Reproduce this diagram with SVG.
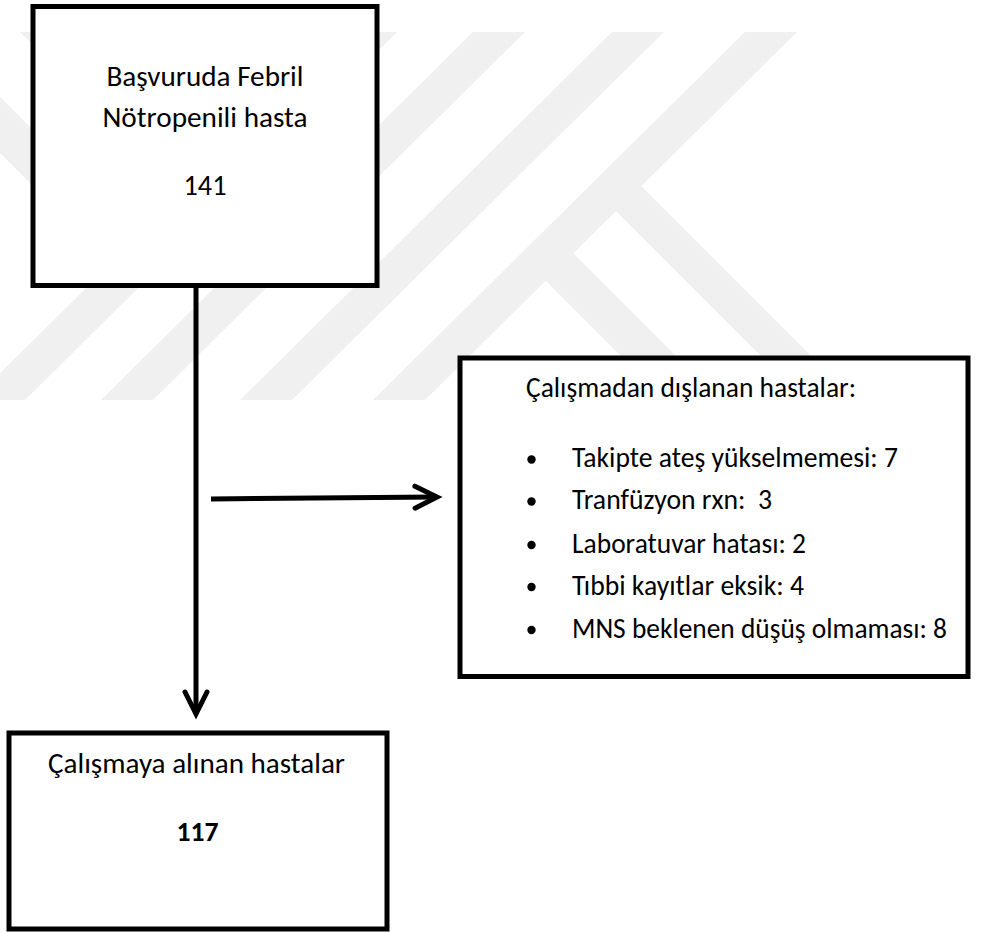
<svg xmlns="http://www.w3.org/2000/svg" width="1008" height="932" viewBox="0 0 1008 932">
  <style>
    .wm { fill: #f0f0f0; stroke: none; }
    .box { fill: #ffffff; stroke: #000000; stroke-width: 5; stroke-linejoin: miter; }
    .txt { font-family: Carlito, Calibri, "Open Sans", sans-serif; font-size: 29px; fill: #000000; }
    .mid { text-anchor: middle; }
    .bold { font-weight: bold; }
    .conn { fill: none; stroke: #000000; stroke-width: 5; }
    .bullet { fill: #000000; }
  </style>
  <defs>
    <marker id="chev" markerUnits="userSpaceOnUse" viewBox="-30 -16 36 32" refX="0" refY="0" markerWidth="36" markerHeight="32" orient="auto">
      <path d="M-22,-11 L0,0 L-22,11" fill="none" stroke="#000000" stroke-width="5" stroke-linecap="round" stroke-linejoin="miter"/>
    </marker>
  </defs>

  <g id="watermark">
    <polygon class="wm" points="345,32 397,32 25,400 -27,400"/>
    <polygon class="wm" points="473,32 525,32 153,400 101,400"/>
    <polygon class="wm" points="612,32 664,32 292,400 240,400"/>
    <polygon class="wm" points="745,32 797,32 425,400 373,400"/>
    <polygon class="wm" points="640.5,185.5 855,400 805,400 615.5,210.5"/>
    <polygon class="wm" points="572,252 720,400 665,400 544.5,279.5"/>
    <polygon class="wm" points="0,97 60,157 60,213 0,153"/>
    <polygon class="wm" points="20,32 60,32 60,72"/>
  </g>

  <g id="connectors">
    <line class="conn" x1="196" y1="288" x2="196" y2="714" marker-end="url(#chev)"/>
    <line class="conn" x1="211" y1="499" x2="437" y2="497" marker-end="url(#chev)"/>
  </g>

  <g id="node-start">
    <rect class="box" x="33" y="6.5" width="344" height="279"/>
    <text class="txt mid" x="205" y="86" textLength="197" lengthAdjust="spacingAndGlyphs">Başvuruda Febril</text>
    <text class="txt mid" x="205" y="127" textLength="205" lengthAdjust="spacingAndGlyphs">Nötropenili hasta</text>
    <text class="txt mid" x="205" y="195" textLength="43" lengthAdjust="spacingAndGlyphs">141</text>
  </g>

  <g id="node-excluded">
    <rect class="box" x="460" y="358" width="508" height="318.5"/>
    <text class="txt" x="526" y="397" textLength="330" lengthAdjust="spacingAndGlyphs">Çalışmadan dışlanan hastalar:</text>
    <circle class="bullet" cx="531.5" cy="459.5" r="4.2"/>
    <text class="txt" x="572" y="467" textLength="326" lengthAdjust="spacingAndGlyphs">Takipte ateş yükselmemesi: 7</text>
    <circle class="bullet" cx="531.5" cy="501.5" r="4.2"/>
    <text class="txt" x="572" y="509" textLength="200" lengthAdjust="spacingAndGlyphs" xml:space="preserve">Tranfüzyon rxn:  3</text>
    <circle class="bullet" cx="531.5" cy="545" r="4.2"/>
    <text class="txt" x="572" y="553" textLength="234" lengthAdjust="spacingAndGlyphs">Laboratuvar hatası: 2</text>
    <circle class="bullet" cx="531.5" cy="587" r="4.2"/>
    <text class="txt" x="572" y="595" textLength="232" lengthAdjust="spacingAndGlyphs">Tıbbi kayıtlar eksik: 4</text>
    <circle class="bullet" cx="531.5" cy="630" r="4.2"/>
    <text class="txt" x="572" y="638" textLength="375" lengthAdjust="spacingAndGlyphs">MNS beklenen düşüş olmaması: 8</text>
  </g>

  <g id="node-included">
    <rect class="box" x="9" y="733" width="378" height="196"/>
    <text class="txt mid" x="196.5" y="773" textLength="297" lengthAdjust="spacingAndGlyphs">Çalışmaya alınan hastalar</text>
    <text class="txt mid bold" x="197.5" y="841" textLength="42" lengthAdjust="spacingAndGlyphs">117</text>
  </g>
</svg>
